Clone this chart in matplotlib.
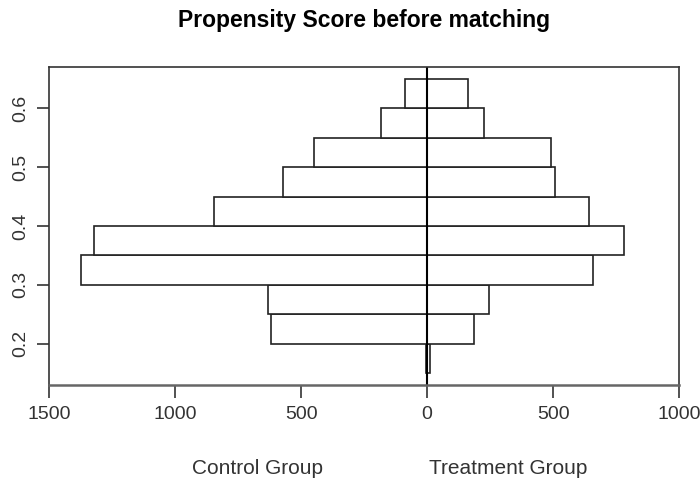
import matplotlib.pyplot as plt
import numpy as np

plt.rcParams['font.family'] = ['Liberation Sans', 'DejaVu Sans']

# propensity score bins (lower edges), width 0.05
bins = [0.15, 0.20, 0.25, 0.30, 0.35, 0.40, 0.45, 0.50, 0.55, 0.60]
control = [5, 620, 633, 1375, 1321, 844, 570, 449, 185, 86]
treatment = [10, 184, 245, 657, 782, 642, 508, 492, 224, 162]

xticks = [-1500, -1000, -500, 0, 500, 1000]
yticks = [0.2, 0.3, 0.4, 0.5, 0.6]

fig = plt.figure(figsize=(7, 4.82), dpi=100)
ax = fig.add_axes([0.07, 0.2012, 0.9004, 0.6598])

edge = '#222222'
ax.barh(bins, -np.array(control), height=0.05, align='edge',
        color='white', edgecolor=edge, linewidth=1.2)
ax.barh(bins, treatment, height=0.05, align='edge',
        color='white', edgecolor=edge, linewidth=1.2)
ax.axvline(0, color='black', linewidth=1.5)

ax.set_xlim(-1500, 1000)
ax.set_ylim(0.13, 0.67)
ax.set_xticks(xticks)
ax.set_xticklabels([str(abs(t)) for t in xticks])
ax.set_yticks(yticks)
ax.set_yticklabels([f'{t:.1f}' for t in yticks], rotation=90, va='center')
ax.tick_params(length=9, width=1.2, colors='#333333', labelsize=14,
               labelcolor='#333333', pad=6)
ax.tick_params(axis='y', pad=5)
for s in ax.spines.values():
    s.set_color('#333333')
    s.set_linewidth(1.2)
ax.spines['bottom'].set_color('#666666')
ax.spines['bottom'].set_linewidth(1.8)

fig.text(364 / 700, 1 - 20 / 482, 'Propensity Score before matching',
         ha='center', va='center', fontsize=16.5, fontweight='bold')
fig.text(258 / 700, 1 - 468 / 482, 'Control Group', ha='center',
         va='center', fontsize=15, color='#333333')
fig.text(508 / 700, 1 - 468 / 482, 'Treatment Group', ha='center',
         va='center', fontsize=15, color='#333333')

fig.savefig('out.png', dpi=100)
